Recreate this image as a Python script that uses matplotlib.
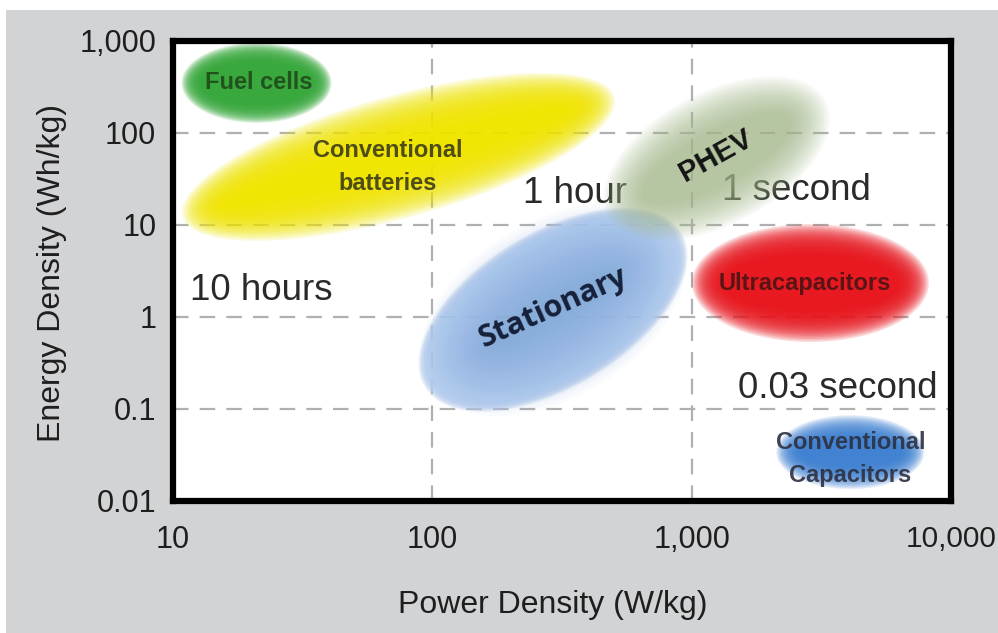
import numpy as np
import matplotlib
matplotlib.use("Agg")
import matplotlib.pyplot as plt
from matplotlib.patches import Polygon, Rectangle

# ---- data ----
x_ticks = [10, 100, 1000, 10000]
x_tick_labels = ["10", "100", "1,000", "10,000"]
y_ticks = [0.01, 0.1, 1, 10, 100, 1000]
y_tick_labels = ["0.01", "0.1", "1", "10", "100", "1,000"]
grid_x = [100, 1000]
grid_y = [0.1, 1, 10, 100]

# technology regions: centre power density (W/kg), centre energy density (Wh/kg)
region_names = ["Fuel cells", "Conventional\nbatteries", "Stationary", "PHEV",
                "Ultracapacitors", "Conventional\nCapacitors"]
region_power = [21, 74, 292, 1250, 2870, 4090]
region_energy = [350, 55, 1.2, 53, 2.34, 0.034]

# label anchor points (W/kg, Wh/kg)
label_power = [21.5, 67.4, 292, 1240, 2720, 4100]
label_energy = [350, 42.7, 1.25, 56, 2.34, 0.0286]

time_labels = ["10 hours", "1 hour", "1 second", "0.03 second"]
time_power = [11.6, 224, 2535, 8900]
time_energy = [1.53, 17.5, 18.5, 0.132]

# ---- styles ----
# (major px, minor px, tilt deg, colour, max alpha, blur px)
shape_style = [
    (130, 60, 0, "#36a83a", 0.97, 10),
    (400, 74, 15.5, "#f1e500", 0.97, 24),
    (290, 146, 31, "#bcd2f0", 0.95, 5),
    (206, 92, 28, "#a8bb8e", 0.75, 20),
    (205, 86, 0, "#e8151d", 0.97, 16),
    (124, 50, 0, "#3b7fd2", 0.95, 12),
]
label_colors = ["#1f4a1c", "#3c3c18", "#16203a", "#141414", "#4a1414", "#2c3040"]

W, H = 998, 633
fig = plt.figure(figsize=(W / 100, H / 100), dpi=100, facecolor="white")
fig.patches.append(Rectangle((6 / W, 0), 1 - 6 / W, 1 - 10 / H, transform=fig.transFigure,
                             facecolor="#d2d3d5", edgecolor="none", zorder=-10))

L, R, T, B = 173, 951, 41, 501
ax = fig.add_axes([L / W, 1 - B / H, (R - L) / W, (B - T) / H])
ax.set_xscale("log")
ax.set_yscale("log")
ax.set_xlim(10, 10000)
ax.set_ylim(0.01, 1000)
ax.set_facecolor("white")
for s in ax.spines.values():
    s.set_linewidth(4.5)
    s.set_color("black")
    s.set_zorder(20)

ax.set_xticks(x_ticks)
ax.set_xticklabels(x_tick_labels)
ax.set_yticks(y_ticks)
ax.set_yticklabels(y_tick_labels)
ax.minorticks_off()
ax.tick_params(axis="both", length=0, labelsize=22, colors="#1e1e1e")
ax.tick_params(axis="x", pad=17)
ax.tick_params(axis="y", pad=12)
for lab in ax.get_xticklabels() + ax.get_yticklabels():
    lab.set_family("Liberation Sans")
ax.get_xticklabels()[-1].set_fontsize(21.5)

for gx in grid_x:
    ax.axvline(gx, color="#b0b0b0", lw=1.6, dashes=(7, 5), zorder=1)
for gy in grid_y:
    ax.axhline(gy, color="#b0b0b0", lw=1.6, dashes=(7, 5), zorder=1)

ppd_x = (R - L) / 3.0
ppd_y = (B - T) / 5.0


def soft_ellipse(cx, cy, a_px, b_px, ang, color, alpha_max, blur, z, n=22):
    t = np.linspace(0, 2 * np.pi, 160)
    phi = np.deg2rad(ang)
    a_single = 1 - (1 - alpha_max) ** (1.0 / n)
    for i in range(n):
        f = i / (n - 1)
        d = blur * (1 - 2 * f)
        a = max(a_px / 2 + d, 2)
        b = max(b_px / 2 + d, 2)
        xo = a * np.cos(t) * np.cos(phi) - b * np.sin(t) * np.sin(phi)
        yo = a * np.cos(t) * np.sin(phi) + b * np.sin(t) * np.cos(phi)
        lx = np.log10(cx) + xo / ppd_x
        ly = np.log10(cy) + yo / ppd_y
        ax.add_patch(Polygon(np.column_stack([10 ** lx, 10 ** ly]), closed=True,
                             facecolor=color, edgecolor="none", alpha=a_single, zorder=z))


def draw_region(i, z):
    a, b, ang, col, am, bl = shape_style[i]
    soft_ellipse(region_power[i], region_energy[i], a, b, ang, col, am, bl, z)


draw_region(0, 2)
draw_region(1, 2)
draw_region(2, 2)
# darker core of the stationary region
soft_ellipse(region_power[2], region_energy[2], 215, 100, 31, "#6e9bd8", 0.55, 38, 2)
draw_region(4, 2)
draw_region(5, 2)

# time constant labels (partly under PHEV)
tfont = dict(family="Liberation Sans", fontsize=26.5, color="#2a2a2a", va="baseline", zorder=3)
ax.text(time_power[0], time_energy[0], time_labels[0], ha="left", **tfont)
ax.text(time_power[1], time_energy[1], time_labels[1], ha="left", **tfont)
ax.text(time_power[2], time_energy[2], time_labels[2], ha="center", **tfont)
ax.text(time_power[3], time_energy[3], time_labels[3], ha="right", **tfont)

# PHEV drawn over the time labels
draw_region(3, 4)

for i in [0, 1, 4, 5]:
    ax.text(label_power[i], label_energy[i], region_names[i], color=label_colors[i],
            family="Liberation Sans", fontsize=17, fontweight="bold", linespacing=1.6,
            ha="center", va="center", zorder=6, alpha=0.9)
ax.text(label_power[3], label_energy[3], region_names[3], family="Liberation Sans",
        fontweight="bold", fontsize=21, rotation=29, color=label_colors[3],
        ha="center", va="center", zorder=6)
ax.text(label_power[2], label_energy[2], region_names[2], family="Open Sans",
        fontweight="bold", fontsize=22, rotation=24, color=label_colors[2],
        ha="center", va="center", zorder=6)

fig.text(553 / W, 1 - 605 / H, "Power Density (W/kg)", family="Liberation Sans",
         fontsize=23, color="#1e1e1e", ha="center", va="center")
fig.text(52 / W, 1 - 273 / H, "Energy Density (Wh/kg)", family="Liberation Sans",
         fontsize=23, color="#1e1e1e", ha="center", va="center", rotation=90)

fig.savefig("out.png", dpi=100, facecolor=fig.get_facecolor())
